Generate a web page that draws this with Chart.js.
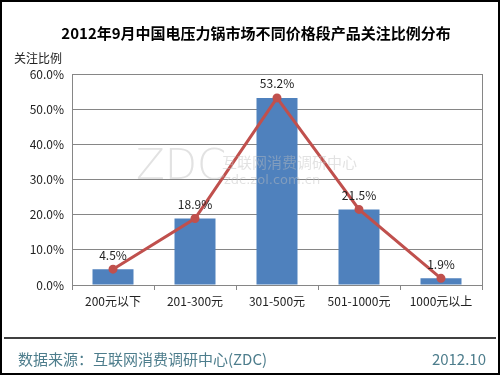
<!DOCTYPE html>
<html>
<head>
<meta charset="utf-8">
<script src="https://cdn.jsdelivr.net/npm/chart.js@4"></script>
<style>
  html, body { margin: 0; padding: 0; background: #fff; }
  #wrap { width: 500px; height: 375px; position: relative; }
</style>
</head>
<body>
<div id="wrap"><canvas id="grafico" width="500" height="375"></canvas></div>
<script>
const categorias = ['200元以下', '201-300元', '301-500元', '501-1000元', '1000元以上']
const valores = [4.5, 18.9, 53.2, 21.5, 1.9]
const ticksY = [0, 10, 20, 30, 40, 50, 60]

const fonte = '"Noto Sans CJK SC", "DejaVu Sans", sans-serif'

// moldura, titulo, rodape, marca d'agua e rotulos
const extras = {
    id: 'extras',
    beforeDraw: (chart) => {
        const ctx = chart.ctx
        ctx.save()
        ctx.fillStyle = '#fff'
        ctx.fillRect(0, 0, 500, 375)
        ctx.restore()
    },
    afterDatasetsDraw: (chart) => {
        const ctx = chart.ctx
        const area = chart.chartArea
        ctx.save()

        // marca d'agua
        ctx.fillStyle = 'rgba(190,190,190,0.45)'
        ctx.font = '200 42px "DejaVu Sans", sans-serif'
        ctx.textBaseline = 'middle'
        ctx.textAlign = 'left'
        ctx.fillText('ZDC', 136, 168)
        ctx.font = '15px ' + fonte
        ctx.fillText('互联网消费调研中心', 222, 162)
        ctx.font = '13px "DejaVu Sans", sans-serif'
        ctx.fillText('zdc.zol.com.cn', 224, 181)

        // rotulos dos valores
        const meta = chart.getDatasetMeta(0)
        ctx.fillStyle = '#222'
        ctx.font = '12px ' + fonte
        ctx.textAlign = 'center'
        meta.data.forEach((bar, i) => {
            ctx.fillText(valores[i].toFixed(1) + '%', bar.x, bar.y - 14)
        })

        // borda da area do grafico
        ctx.strokeStyle = '#868686'
        ctx.lineWidth = 1
        ctx.strokeRect(area.left + 0.5, area.top + 0.5, area.right - area.left, area.bottom - area.top)
        ctx.restore()
    },
    afterDraw: (chart) => {
        const ctx = chart.ctx
        ctx.save()
        ctx.strokeStyle = '#000'
        ctx.lineWidth = 2
        ctx.strokeRect(1, 1, 498, 373)

        ctx.lineWidth = 1.5
        ctx.beginPath()
        ctx.moveTo(4, 338)
        ctx.lineTo(496, 338)
        ctx.stroke()

        ctx.fillStyle = '#000'
        ctx.font = 'bold 15px ' + fonte
        ctx.textAlign = 'center'
        ctx.textBaseline = 'middle'
        ctx.fillText('2012年9月中国电压力锅市场不同价格段产品关注比例分布', 256, 33)

        ctx.fillStyle = '#222'
        ctx.font = '12px ' + fonte
        ctx.textAlign = 'left'
        ctx.fillText('关注比例', 14, 58)

        ctx.fillStyle = '#4d7d8c'
        ctx.font = '15px ' + fonte
        ctx.fillText('数据来源：互联网消费调研中心(ZDC)', 18, 359)
        ctx.textAlign = 'right'
        ctx.fillText('2012.10', 486, 359)
        ctx.restore()
    }
}

const config = {
    data: {
        labels: categorias,
        datasets: [{
            type: 'bar',
            data: valores,
            backgroundColor: '#4f81bd',
            categoryPercentage: 1,
            barPercentage: 0.5,
            order: 2
        }, {
            type: 'line',
            data: valores,
            borderColor: '#c0504d',
            borderWidth: 3,
            pointRadius: 3,
            pointBackgroundColor: '#c0504d',
            pointBorderColor: '#c0504d',
            tension: 0,
            order: 1
        }]
    },
    options: {
        responsive: false,
        animation: false,
        layout: {
            padding: { left: 10, right: 18, top: 74, bottom: 50 }
        },
        scales: {
            x: {
                grid: { display: true, drawOnChartArea: false, offset: true, color: '#868686', tickLength: 5 },
                border: { color: '#868686' },
                ticks: { color: '#222', font: { family: fonte, size: 12 }, padding: 4 },
                afterFit: (scale) => { scale.height = 40 }
            },
            y: {
                min: 0,
                max: 60,
                afterBuildTicks: (scale) => { scale.ticks = ticksY.map(v => ({ value: v })) },
                grid: { color: '#868686', drawTicks: false },
                border: { display: false },
                ticks: {
                    color: '#222',
                    font: { family: fonte, size: 12 },
                    padding: 8,
                    callback: (v) => v.toFixed(1) + '%'
                },
                afterFit: (scale) => { scale.width = 62 }
            }
        },
        plugins: {
            legend: { display: false },
            tooltip: { enabled: false }
        }
    },
    plugins: [extras]
}

const meuGrafico = new Chart(document.getElementById('grafico'), config)
</script>
</body>
</html>
